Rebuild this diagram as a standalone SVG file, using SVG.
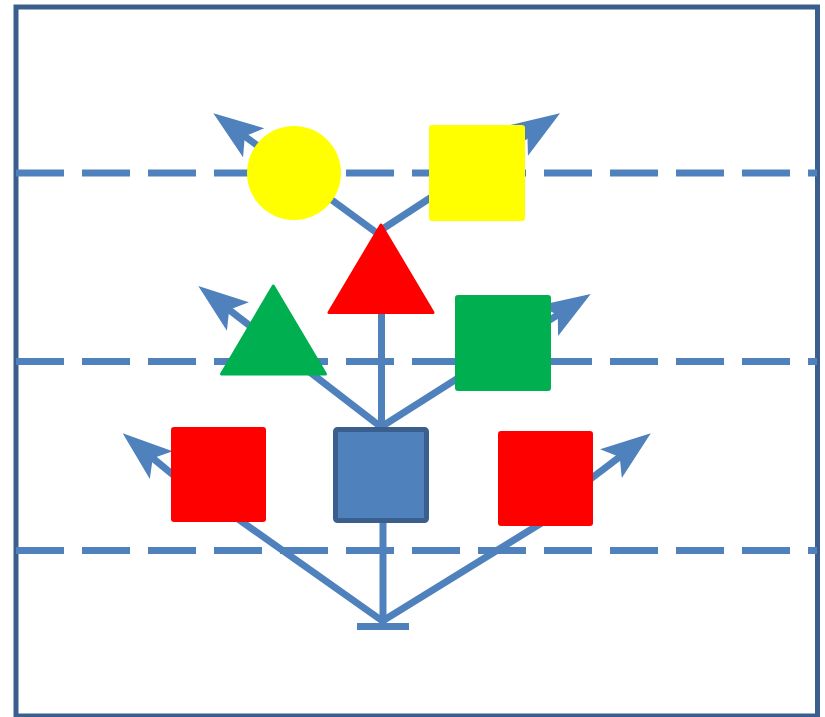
<svg xmlns="http://www.w3.org/2000/svg" width="825" height="717" viewBox="0 0 825 717">
<style>
.guide{stroke:#4F81BD;stroke-width:7;stroke-dasharray:48 18;fill:none}
.conn{stroke:#4F81BD;stroke-width:7;fill:none}
.arr{marker-end:url(#stealth)}
</style>
<defs>
<marker id="stealth" markerUnits="userSpaceOnUse" viewBox="-15 -20 56 40" markerWidth="56" markerHeight="40" refX="0" refY="0" orient="auto" overflow="visible">
<path d="M38,0 L-12,-18 L-1,0 L-12,18 Z" fill="#4F81BD"/>
</marker>
</defs>
<rect x="0" y="0" width="825" height="717" fill="#FFFFFF"/>
<rect id="frame" x="16" y="7" width="801.5" height="709" fill="#FFFFFF" stroke="#3B5F8C" stroke-width="5"/>
<g id="guides">
<line class="guide" x1="16" y1="173" x2="817" y2="173"/>
<line class="guide" x1="16" y1="361.5" x2="817" y2="361.5"/>
<line class="guide" x1="16" y1="550.5" x2="817" y2="550.5"/>
</g>
<g id="connectors">
<line class="conn" x1="357" y1="626.5" x2="409" y2="626.5" stroke-width="8.5"/>
<line class="conn" x1="383" y1="623" x2="383" y2="470"/>
<line class="conn" x1="381.5" y1="428" x2="381.5" y2="290"/>
<line class="conn" x1="382.5" y1="621" x2="229.4" y2="512.9"/>
<line class="conn" x1="382.5" y1="621" x2="552" y2="516.5"/>
<line class="conn arr" x1="381" y1="236" x2="244" y2="135.7"/>
<line class="conn arr" x1="381" y1="230" x2="528.2" y2="134.1"/>
<line class="conn arr" x1="381" y1="427" x2="228.4" y2="309.2"/>
<line class="conn arr" x1="381" y1="427" x2="558.6" y2="314.4"/>
<line class="conn arr" x1="199.8" y1="496.9" x2="152" y2="457.5"/>
<line class="conn arr" x1="571.1" y1="493.7" x2="620.5" y2="456.3"/>
</g>
<g id="yellow-circle"><circle cx="294" cy="173" r="47" fill="#FFFF00"/></g>
<g id="yellow-square"><rect x="429" y="125" width="96" height="96" rx="3" fill="#FFFF00"/></g>
<g id="red-triangle"><polygon points="381,225 329,312.5 433,312.5" fill="#FF0000" stroke="#FF0000" stroke-width="3" stroke-linejoin="round"/></g>
<g id="green-triangle"><polygon points="273.3,286 221.5,374 325.5,374" fill="#00B050" stroke="#00B050" stroke-width="3" stroke-linejoin="round"/></g>
<g id="green-square"><rect x="455" y="295" width="96" height="96" rx="3" fill="#00B050"/></g>
<g id="red-square-left"><rect x="171" y="427" width="95" height="95" rx="3" fill="#FF0000"/></g>
<g id="blue-square"><rect x="335.5" y="429.5" width="91" height="91" rx="2" fill="#4F81BD" stroke="#3B5F8C" stroke-width="5"/></g>
<g id="red-square-right"><rect x="498" y="431" width="95" height="95" rx="3" fill="#FF0000"/></g>
</svg>
